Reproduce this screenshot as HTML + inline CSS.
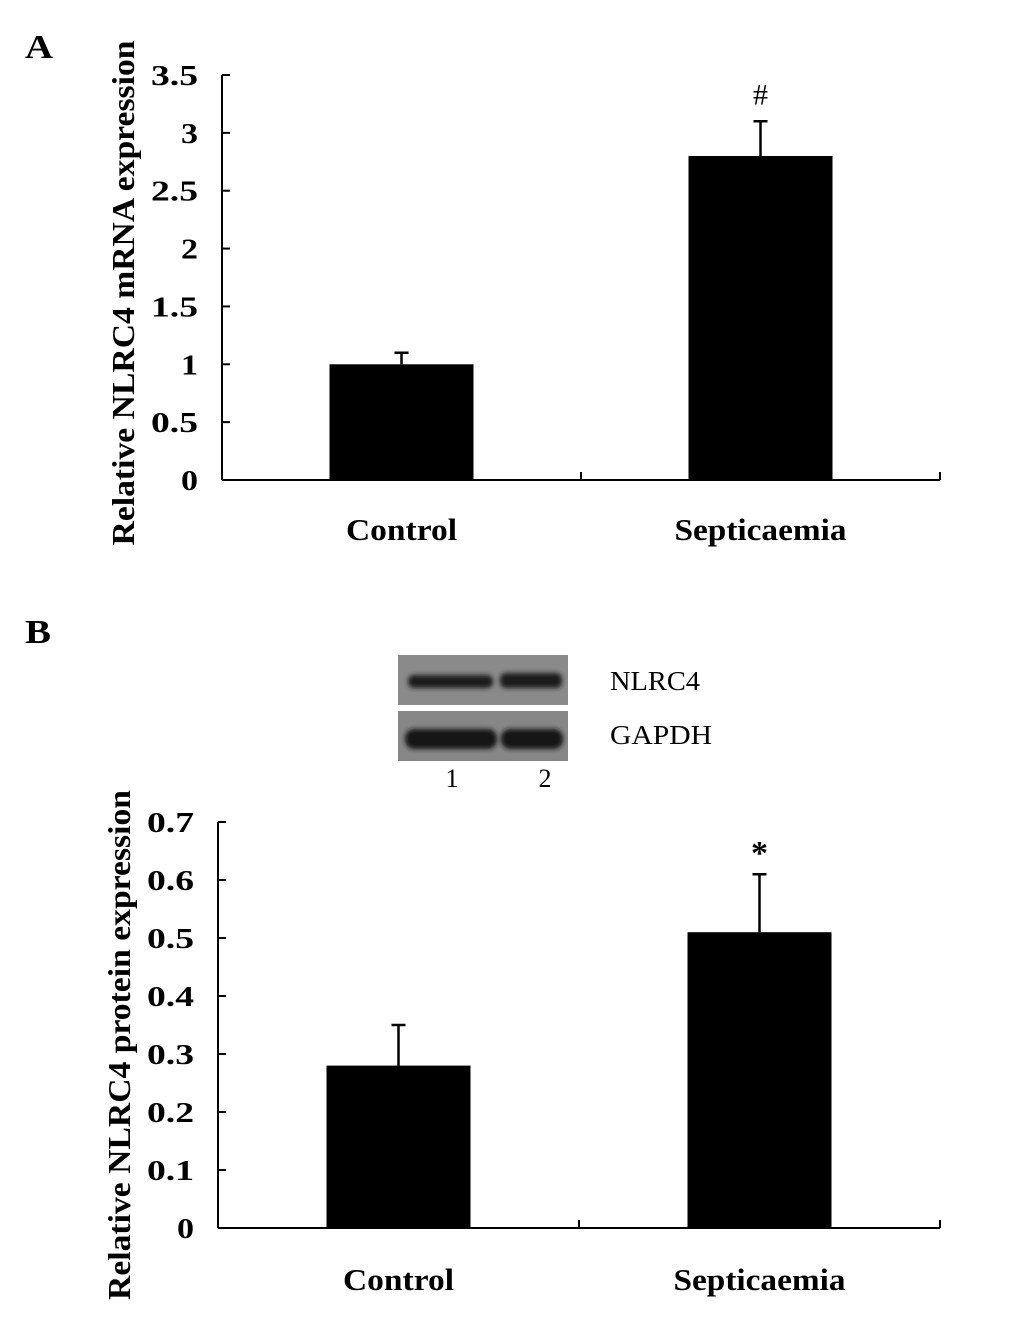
<!DOCTYPE html>
<html><head><meta charset="utf-8"><style>
body{margin:0;background:#fff;}
svg text{font-family:"Liberation Serif",serif;}
</style></head><body>
<svg width="1033" height="1313" xmlns="http://www.w3.org/2000/svg">
<defs><filter id="blur"><feGaussianBlur stdDeviation="2.5"/></filter></defs>
<text x="25" y="58" font-size="34" font-weight="bold" textLength="28" lengthAdjust="spacingAndGlyphs">A</text>
<text x="25" y="643" font-size="34" font-weight="bold" textLength="26" lengthAdjust="spacingAndGlyphs">B</text>
<g id="chartA"></g>
<g id="chartB"></g>
<g>
  <rect x="398" y="655" width="170" height="50" fill="#8a8a8a"/>
  <rect x="398" y="711" width="170" height="50" fill="#878787"/>
  <g filter="url(#blur)">
    <rect x="408" y="675" width="85" height="13" rx="6" fill="#1e1e1e"/>
    <rect x="500" y="673" width="62" height="15" rx="6" fill="#1e1e1e"/>
    <rect x="405" y="729" width="92" height="20" rx="9" fill="#151515"/>
    <rect x="501" y="729" width="62" height="20" rx="9" fill="#151515"/>
  </g>
  <text x="610" y="690" font-size="27" textLength="90" lengthAdjust="spacingAndGlyphs">NLRC4</text>
  <text x="610" y="744" font-size="27" textLength="102" lengthAdjust="spacingAndGlyphs">GAPDH</text>
  <text x="452" y="787" font-size="26" text-anchor="middle">1</text>
  <text x="545" y="787" font-size="26" text-anchor="middle">2</text>
</g>
</svg>
<script>
const categories = ["Control", "Septicaemia"];
const valuesA = [1.0, 2.8];
const errorsA = [0.1, 0.3];
const ticksA = [0, 0.5, 1, 1.5, 2, 2.5, 3, 3.5];
const ticksALabels = ["0", "0.5", "1", "1.5", "2", "2.5", "3", "3.5"];
const marksA = ["", "#"];
const valuesB = [0.28, 0.51];
const errorsB = [0.07, 0.10];
const ticksB = [0, 0.1, 0.2, 0.3, 0.4, 0.5, 0.6, 0.7];
const ticksBLabels = ["0", "0.1", "0.2", "0.3", "0.4", "0.5", "0.6", "0.7"];
const marksB = ["", "*"];
const NS = "http://www.w3.org/2000/svg";
function mk(parent, tag, attrs){const e=document.createElementNS(NS,tag);for(const k in attrs)e.setAttribute(k,attrs[k]);parent.appendChild(e);return e;}
function draw(g, cfg, vals, errs, ticks, tickLabels, marks, title){
  const y = v => cfg.y0 - (v - 0) / cfg.max * (cfg.y0 - cfg.yTop);
  const bw = (cfg.x1 - cfg.x0) / categories.length;
  const xc = i => cfg.x0 + bw * (i + 0.5);
  let l = mk(g,"line",{x1:cfg.x0,y1:cfg.yTop,x2:cfg.x0,y2:cfg.y0,stroke:"#000","stroke-width":2});
  
  
  l = mk(g,"line",{x1:cfg.x0,y1:cfg.y0,x2:cfg.x1,y2:cfg.y0,stroke:"#000","stroke-width":2});
  
  
  for(let i=0;i<=categories.length;i++){
    const tx = cfg.x0 + bw*i;
    const t = mk(g,"line",{x1:tx,y1:cfg.y0,x2:tx,y2:cfg.y0-8,stroke:"#000","stroke-width":2});
    
    
  }
  ticks.forEach((v,i)=>{
    const t = mk(g,"line",{x1:cfg.x0,y1:y(v),x2:cfg.x0+8,y2:y(v),stroke:"#000","stroke-width":2});
    
    
    const s = tickLabels[i];
    const tl = mk(g,"text",{x:cfg.x0-24,y:y(v)+10,"font-size":29,"font-weight":"bold","text-anchor":"end",textLength:s.length>1?47:17,lengthAdjust:"spacingAndGlyphs"});
    tl.textContent = s;
    
    
  });
  vals.forEach((v,i)=>{
    const cx = xc(i);
    const b = mk(g,"rect",{x:cx-72,y:y(v),width:144,height:cfg.y0-y(v),fill:"#000"});
    
    
    const e = mk(g,"path",{d:`M${cx} ${y(v)} V${y(v+errs[i])} M${cx-7} ${y(v+errs[i])} H${cx+7}`,stroke:"#000","stroke-width":2.5,fill:"none"});
    
    
    if(marks[i]){
      const m = mk(g,"text",{x:cx,y:y(v+errs[i])-cfg.markOff,"font-size":marks[i]=="*"?34:30,"font-weight":marks[i]=="*"?"bold":"normal","text-anchor":"middle"});
      m.textContent = marks[i];
      
      
    }
    const cl = mk(g,"text",{x:cx,y:cfg.labelY,"font-size":31,"font-weight":"bold","text-anchor":"middle",textLength:i==0?111:172,lengthAdjust:"spacingAndGlyphs"});
    cl.textContent = categories[i];
    
    
  });
  const yt = mk(g,"text",{x:0,y:0,"font-size":32,"font-weight":"bold","text-anchor":"middle",textLength:cfg.titleLen,lengthAdjust:"spacingAndGlyphs",transform:`translate(${cfg.titleX},${cfg.titleY}) rotate(-90)`});
  yt.textContent = title;
  
  
}
draw(document.getElementById("chartA"),{x0:222,x1:940,y0:480,yTop:75,max:3.5,labelY:540,titleX:134,titleY:293,titleLen:505,markOff:17},valuesA,errorsA,ticksA,ticksALabels,marksA,"Relative NLRC4 mRNA expression");
draw(document.getElementById("chartB"),{x0:218,x1:940,y0:1228,yTop:822,max:0.7,labelY:1290,titleX:130,titleY:1045,titleLen:510,markOff:10},valuesB,errorsB,ticksB,ticksBLabels,marksB,"Relative NLRC4 protein expression");
</script>
</body></html>
